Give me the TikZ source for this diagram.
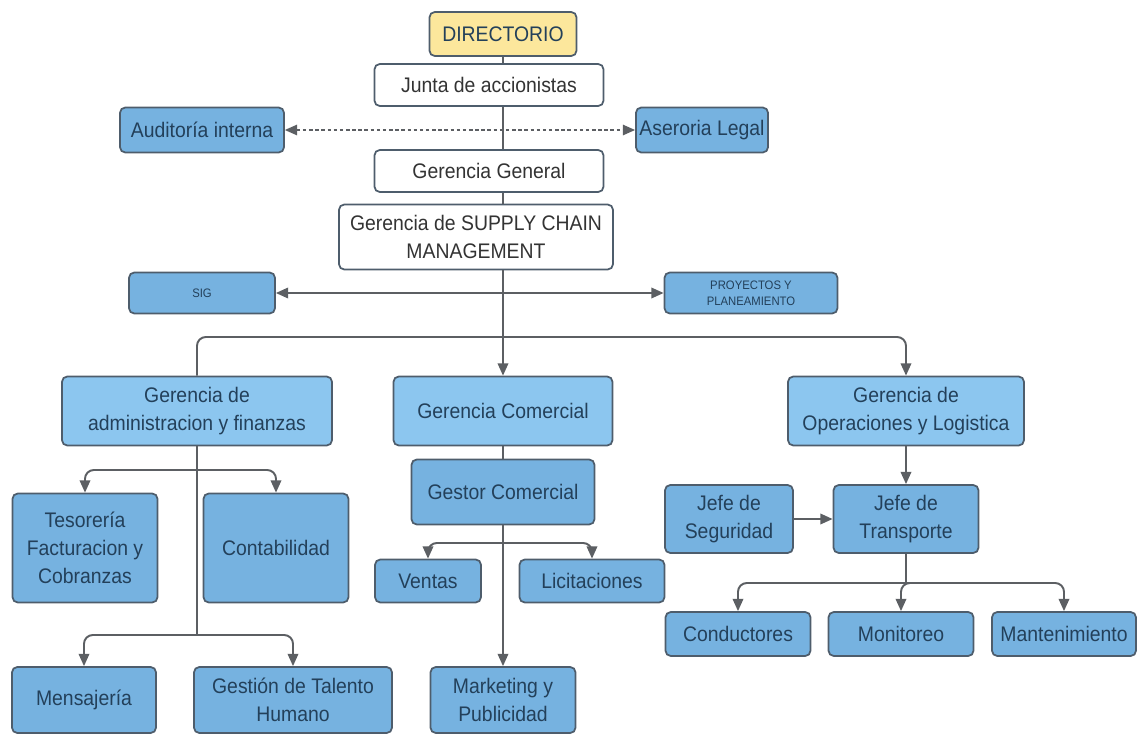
\documentclass[tikz,border=0pt]{standalone}
\usepackage{fontspec}
\setmainfont{Liberation Sans}[FakeStretch=0.92]
\usetikzlibrary{arrows.meta}
\definecolor{boxline}{HTML}{4E5D6C}
\definecolor{boxtext}{HTML}{23405A}
\definecolor{bluehi}{HTML}{8CC6EF}
\definecolor{bluelo}{HTML}{76B2E0}
\definecolor{yellowdir}{HTML}{FCE79C}
\definecolor{connc}{HTML}{5C5F63}
\tikzset{
	box/.style={draw=boxline, line width=1pt, rounded corners=3pt, align=center, inner sep=2pt, text=boxtext, fill=bluelo},
	hibox/.style={box, fill=bluehi},
	whitebox/.style={box, fill=white, text=black!80},
	sz/.style 2 args={minimum width=#1*0.02cm, minimum height=#2*0.02cm},
	conn/.style={draw=connc, line width=1.1pt},
	arr/.style={conn, -{Triangle[length=7pt,width=6pt]}},
	split/.style={conn, rounded corners=5pt},
}
\begin{document}
\begin{tikzpicture}[x=0.02cm, y=-0.02cm, font=\fontsize{12}{16}\selectfont]
		\useasboundingbox (0,0) rectangle (1137,734);
		
		\node[box, fill=yellowdir, sz={147}{44}] (dir) at (503,34) {DIRECTORIO};
		\node[whitebox, sz={229}{42}] (jun) at (489,85) {Junta de accionistas};
		\node[box, sz={164}{45}] (aud) at (202,130) {Auditoría interna};
		\node[box, sz={121}{45}] (ase) at (702,130) {Aseroria Legal};
		\node[whitebox, sz={229}{42}] (gg) at (489,171) {Gerencia General};
		\node[whitebox, sz={274}{65}] (scm) at (476,237) {Gerencia de SUPPLY CHAIN\\MANAGEMENT};
		\node[box, sz={146}{41}, font=\fontsize{7}{9}\selectfont] (sig) at (202,293) {SIG};
		\node[box, sz={173}{41}, font=\fontsize{7}{9}\selectfont] (proy) at (751,293) {PROYECTOS Y\\PLANEAMIENTO};
		
		\node[hibox, sz={270}{69}] (adm) at (197,411) {Gerencia de\\administracion y finanzas};
		\node[hibox, sz={219}{69}] (gcom) at (503,411) {Gerencia Comercial};
		\node[hibox, sz={236}{69}] (gop) at (906,411) {Gerencia de\\Operaciones y Logistica};
		
		\node[box, sz={145}{109}] (teso) at (85,548) {Tesorería\\Facturacion y\\Cobranzas};
		\node[box, sz={145}{109}] (cont) at (276,548) {Contabilidad};
		\node[box, sz={144}{66}] (mens) at (84,700) {Mensajería};
		\node[box, sz={198}{66}] (talh) at (293,700) {Gestión de Talento\\Humano};
		
		\node[box, sz={183}{65}] (gest) at (503,492) {Gestor Comercial};
		\node[box, sz={106}{43}] (vent) at (428,581) {Ventas};
		\node[box, sz={145}{43}] (lici) at (592,581) {Licitaciones};
		\node[box, sz={145}{66}] (mkt) at (503,700) {Marketing y\\Publicidad};
		
		\node[box, sz={128}{68}] (segu) at (729,519) {Jefe de\\Seguridad};
		\node[box, sz={145}{68}] (tran) at (906,519) {Jefe de\\Transporte};
		\node[box, sz={145}{44}] (cond) at (738,634) {Conductores};
		\node[box, sz={145}{44}] (moni) at (901,634) {Monitoreo};
		\node[box, sz={144}{44}] (mant) at (1064,634) {Mantenimiento};
		
		\coordinate (split) at (503,337);
		\coordinate (admA) at (adm.south |- 0,470);
		\coordinate (admB) at (adm.south |- 0,635);
		\coordinate (gestA) at (gest.south |- 0,543);
		\coordinate (tranA) at (tran.south |- 0,583);
		
		\draw[conn] (dir.south) -- (dir.south |- jun.north);
		\draw[conn] (dir.south |- jun.south) -- (dir.south |- gg.north);
		\draw[conn] (dir.south |- gg.south) -- (dir.south |- scm.north);
		\draw[arr] (dir.south |- scm.south) -- (gcom.north);
		\draw[conn, dash pattern=on 2pt off 1.5pt, line width=0.8pt, {Triangle[length=7pt,width=6pt]}-{Triangle[length=7pt,width=6pt]}] (aud) -- (ase);
		\draw[arr, {Triangle[length=7pt,width=6pt]}-{Triangle[length=7pt,width=6pt]}] (sig) -- (proy);
		\draw[split] (adm.north) |- (split);
		\draw[split, -{Triangle[length=7pt,width=6pt]}] (split) -| (gop.north);
		
		\draw[conn] (adm.south) -- (admB);
		\draw[split, -{Triangle[length=7pt,width=6pt]}] (admA) -| (teso.north);
		\draw[split, -{Triangle[length=7pt,width=6pt]}] (admA) -| (cont.north);
		\draw[split, -{Triangle[length=7pt,width=6pt]}] (admB) -| (mens.north);
		\draw[split, -{Triangle[length=7pt,width=6pt]}] (admB) -| (talh.north);
		
		\draw[conn] (gcom) -- (gest);
		\draw[arr] (gest) -- (mkt);
		\draw[split, -{Triangle[length=7pt,width=6pt]}] (gestA) -| (vent.north);
		\draw[split, -{Triangle[length=7pt,width=6pt]}] (gestA) -| (lici.north);
		
		\draw[arr] (gop) -- (tran);
		\draw[arr] (segu) -- (tran);
		\draw[conn] (tran.south) -- (tranA);
		\draw[split, -{Triangle[length=7pt,width=6pt]}] (tranA) -| (cond.north);
		\draw[split, -{Triangle[length=7pt,width=6pt]}] (tranA) -| (moni.north);
		\draw[split, -{Triangle[length=7pt,width=6pt]}] (tranA) -| (mant.north);
\end{tikzpicture}
\end{document}
